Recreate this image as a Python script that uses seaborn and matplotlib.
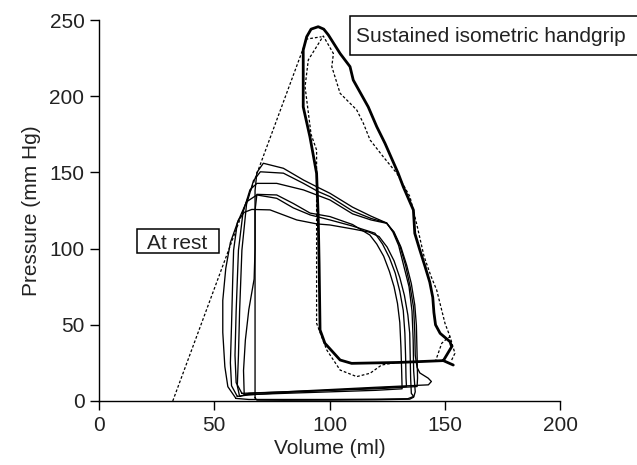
import matplotlib
matplotlib.use("Agg")
import matplotlib.pyplot as plt
from matplotlib.patches import Rectangle
import seaborn as sns
import pandas as pd

# ---------------- data (volume in ml, pressure in mmHg) ----------------
rest1_vol = [67.7, 67.7, 67.7, 68.5, 71.3, 80, 88.7, 95.9, 100.2, 110, 118, 124.8, 127.5, 130, 132.5, 134.5, 135.8, 136.3, 136.5, 137.2, 136.5, 134.8, 120, 100, 80, 68.5, 67.7]
rest1_pres = [2, 60, 138, 150, 156, 152.7, 145, 139.5, 136.3, 127.2, 121.3, 116.8, 110.9, 102, 87, 75, 59, 40, 20, 6, 2.5, 1.2, 0.8, 0.6, 0.5, 0.6, 2]

rest2_vol = [61, 60, 60.5, 61, 62, 64, 67, 70, 80, 88.7, 95, 100.2, 110, 118, 124.8, 127.8, 130.5, 133, 135, 136.5, 137, 137.2, 138, 139.2, 142.8, 144.2, 142.9, 120, 100, 80, 65, 61]
rest2_pres = [3, 10, 30, 59, 99, 129, 144.5, 150.4, 149.5, 142.8, 137.5, 134.1, 124.7, 119.8, 116.8, 110.9, 102, 89, 75, 61, 45, 30, 22, 18.4, 15, 12.8, 10.6, 9, 7.5, 6, 5, 3]

rest3_vol = [62, 59.5, 59, 59.5, 60.5, 62.5, 65.5, 68.5, 77.1, 88.7, 100.2, 110, 118, 124.8, 128, 131, 133.5, 135.5, 137, 137.7, 138, 138.2, 138, 120, 100, 80, 65, 62]
rest3_pres = [5, 12, 30, 59, 99, 124, 138.6, 142.8, 142.8, 138.5, 131.9, 122.8, 118.8, 116.6, 110.9, 101, 89, 77, 63, 49.5, 30, 15, 9.5, 8, 7, 6, 5.2, 5]

rest4_vol = [63, 62.7, 63.5, 65, 67.3, 67.7, 67.7, 68.5, 77.1, 84.3, 91.6, 100.2, 110, 117.5, 120.5, 123.5, 126, 128, 129.5, 130.5, 131, 131.3, 131.5, 120, 100, 80, 65, 63]
rest4_pres = [4, 20, 40, 60, 80, 100, 125, 135.6, 135.2, 129.6, 123.3, 121, 115.8, 108.9, 103, 95, 85, 75, 64, 51.5, 35, 20, 8, 7, 6, 5, 4.2, 4]

rest5_vol = [60, 57.5, 57, 57.5, 58, 58.4, 60, 64, 68.5, 77.1, 84.3, 91.6, 100.2, 110, 119.7, 123, 126, 128.5, 130.5, 132, 132.7, 133, 133.2, 133.4, 120, 100, 80, 65, 60]
rest5_pres = [3, 10, 25, 50, 79, 99, 116.8, 130.7, 135.2, 133, 126.7, 122.1, 118.8, 114.8, 110.1, 103, 94, 84, 72, 59.4, 44.5, 30, 15, 9.5, 8.5, 7, 5.5, 4, 3]

rest6_vol = [59.4, 55.9, 54.6, 53.7, 53.7, 55, 57, 60.5, 63, 66.3, 74.2, 85.8, 94.5, 100.2, 110, 117, 121.5, 125, 128, 130.5, 132.5, 134, 134.8, 135, 135.2, 135.5, 136.5, 134, 120, 100, 80, 65, 59.4]
rest6_pres = [1.7, 9.4, 22.5, 45, 66, 87, 104, 118.8, 123.8, 125.7, 125.4, 118.8, 116.2, 115.5, 112.9, 110.9, 107.9, 101, 92, 81, 69.3, 56.4, 44.5, 30, 15, 5, 3, 1.5, 1.2, 1, 1, 1, 1.7]

grip_vol = [153.7, 149.4, 153.0, 152.3, 148.0, 146.0, 145.3, 144.8, 143.5, 141.5, 139.0, 137.0, 136.4, 132.0, 129.8, 124.1, 120.5, 116.8, 110.3, 108.9, 104.6, 99.5, 97.5, 95.1, 92.0, 90.1, 88.6, 88.6, 91.5, 94.4, 95.1, 95.5, 95.9, 98.0, 104.6, 109.6, 130.0, 149.4]
grip_pres = [23.6, 26.5, 35.6, 38.9, 44.4, 50.0, 58.0, 68.0, 78.0, 88.0, 100.0, 110.0, 125.3, 140.6, 149.4, 169.0, 180.0, 193.0, 210.6, 219.4, 228.0, 240.2, 244.0, 245.6, 244.0, 239.0, 230.3, 193.0, 173.4, 149.4, 121.0, 90.0, 46.6, 37.9, 26.9, 24.7, 25.3, 26.5]

grip2_vol = [153.0, 154.4, 152.3, 150.1, 146.5, 144.0, 141.0, 138.0, 134.9, 129.2, 123.3, 117.6, 114.7, 111.8, 104.6, 101.0, 101.7, 97.3, 90.8, 89.4, 92.0, 94.4, 94.4, 94.4, 98.8, 104.6, 111.8, 117.6, 122.6, 130.0, 146.0, 148.7, 151.0, 152.3]
grip2_pres = [26.9, 31.3, 42.2, 51.0, 72.8, 82.0, 95.0, 115.0, 134.1, 149.4, 160.3, 171.3, 182.2, 191.0, 201.9, 219.4, 228.0, 239.5, 223.8, 206.2, 175.0, 164.7, 120.0, 51.0, 33.5, 20.3, 16.0, 18.2, 23.6, 25.5, 26.2, 37.9, 41.0, 42.2]

espvr_vol = [32.0, 90.1, 96.5]
espvr_pres = [0.0, 237.5, 239.0]

x_ticks = [0, 50, 100, 150, 200]
y_ticks = [0, 50, 100, 150, 200, 250]
label_grip = "Sustained isometric handgrip"
label_rest = "At rest"

# ---------------- tables ----------------
rest_loops = [(rest1_vol, rest1_pres), (rest2_vol, rest2_pres), (rest3_vol, rest3_pres),
              (rest4_vol, rest4_pres), (rest5_vol, rest5_pres), (rest6_vol, rest6_pres)]
rest_df = pd.concat(
    [pd.DataFrame({"volume": v, "pressure": p, "loop": i}) for i, (v, p) in enumerate(rest_loops)],
    ignore_index=True)
grip_df = pd.DataFrame({"volume": grip_vol, "pressure": grip_pres})
grip2_df = pd.DataFrame({"volume": grip2_vol, "pressure": grip2_pres})
espvr_df = pd.DataFrame({"volume": espvr_vol, "pressure": espvr_pres})

# ---------------- figure ----------------
sns.set_style("ticks")
plt.rcParams["font.family"] = ["Liberation Sans", "DejaVu Sans"]

W, H = 637, 465
fig = plt.figure(figsize=(W / 100, H / 100), dpi=100)
ax = fig.add_axes([99 / W, 1 - 401 / H, (560 - 99) / W, (401 - 20) / H])

dash = (0, (2.2, 1.6))
sns.lineplot(data=rest_df, x="volume", y="pressure", units="loop", estimator=None,
             sort=False, color="black", linewidth=0.95, ax=ax, legend=False)
sns.lineplot(data=grip2_df, x="volume", y="pressure", estimator=None, sort=False,
             color="black", linewidth=0.9, linestyle=dash, ax=ax)
sns.lineplot(data=espvr_df, x="volume", y="pressure", estimator=None, sort=False,
             color="black", linewidth=0.9, linestyle=dash, ax=ax)
sns.lineplot(data=grip_df, x="volume", y="pressure", estimator=None, sort=False,
             color="black", linewidth=2.0, ax=ax)
for ln in ax.lines:
    ln.set_clip_on(False)
    ln.set_solid_joinstyle("round")

ax.set_xlim(0, 200)
ax.set_ylim(0, 250)
ax.set_xticks(x_ticks)
ax.set_yticks(y_ticks)
ax.tick_params(axis="both", labelsize=15, length=6.5, width=1.0, pad=4, color="black",
               labelcolor="#222222")
for s in ["left", "bottom"]:
    ax.spines[s].set_linewidth(1.0)
    ax.spines[s].set_color("black")
sns.despine(ax=ax)
ax.set_xlabel("Volume (ml)", fontsize=15, color="#222222", labelpad=3)
ax.set_ylabel("Pressure (mm Hg)", fontsize=15, color="#222222", labelpad=6)

# boxed labels (figure pixel positions)
def px(x, y):
    return x / W, 1 - y / H

x0, y0 = px(350, 55)
x1, y1 = px(645, 15.7)
fig.patches.append(Rectangle((x0, y0), x1 - x0, y1 - y0, transform=fig.transFigure,
                             fill=True, fc="white", ec="black", lw=1.1, zorder=5))
fig.text(*px(356, 42.3), label_grip, fontsize=15, ha="left", va="baseline",
         color="#222222", zorder=6)

x0, y0 = px(136.7, 253.3)
x1, y1 = px(219.3, 229.3)
fig.patches.append(Rectangle((x0, y0), x1 - x0, y1 - y0, transform=fig.transFigure,
                             fill=True, fc="white", ec="black", lw=1.1, zorder=5))
fig.text(*px(146.7, 249.3), label_rest, fontsize=15, ha="left", va="baseline",
         color="#222222", zorder=6)

fig.savefig("out.png", dpi=100)
